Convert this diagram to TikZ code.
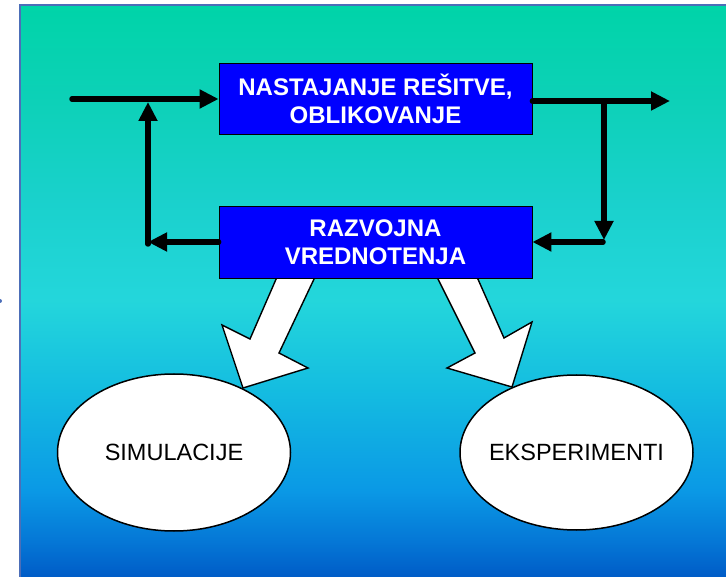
\documentclass[tikz,border=0pt]{standalone}
\usepackage{fontspec}
\setmainfont{Liberation Sans}
\usetikzlibrary{arrows.meta,shapes.geometric}

% background fade: blue at the bottom, cyan in the middle, teal at the top
\pgfdeclareverticalshading{panelfade}{100bp}{
  rgb(0bp)=(0,0.36,0.78);
  rgb(25bp)=(0,0.36,0.78);
  rgb(28.2bp)=(0.02,0.47,0.84);
  rgb(32.6bp)=(0.04,0.6,0.9);
  rgb(41.4bp)=(0.08,0.74,0.88);
  rgb(49.2bp)=(0.14,0.84,0.86);
  rgb(58bp)=(0.1,0.82,0.8);
  rgb(66.7bp)=(0.05,0.82,0.72);
  rgb(75bp)=(0,0.83,0.66);
  rgb(100bp)=(0,0.83,0.66)}

\definecolor{framecol}{rgb}{0.3,0.43,0.72}
\definecolor{boxblue}{rgb}{0,0,1}

\tikzset{
  procbox/.style={draw=black, line width=0.8pt, fill=boxblue, text=white,
    font=\bfseries\fontsize{24}{28}\selectfont, align=center, inner sep=0pt,
    minimum width=313pt},
  flow/.style={line width=5.5pt, line cap=round, line join=round,
    -{Triangle[length=19pt,width=18pt]}},
  hollow/.style={draw=black, line width=1.4pt, fill=white, line join=miter},
  bubble/.style={ellipse, draw=black, line width=1.5pt, fill=white, inner sep=0pt},
  bubbletext/.style={font=\fontsize{23.5}{28}\selectfont, inner sep=0pt}
}

\begin{document}
\begin{tikzpicture}[x=1pt,y=-1pt]
\useasboundingbox (0,0) rectangle (726,577);

% panel
\shade[shading=panelfade] (20,5) rectangle (726,577);
\draw[framecol, line width=2pt] (20,577) -- (20,5) -- (726,5);
\fill[framecol] (0,301) circle (2);

% ellipses
\node[bubble, minimum width=233pt, minimum height=157pt] (sim) at (174,452.5) {};
\node[bubbletext] (simtxt) at (sim.center) {SIMULACIJE};
\node[bubble, minimum width=233pt, minimum height=155pt] (eks) at (576.5,452.5) {};
\node[bubbletext] (ekstxt) at (eks.center) {EKSPERIMENTI};

% block arrows from the evaluation box to the ellipses
\draw[hollow] (277,277) -- (250,339) -- (222,325) -- (243,388)
  -- (308,368) -- (279,353) -- (315,277) -- cycle;
\draw[hollow] (437,277) -- (475,353) -- (447,368) -- (512,387)
  -- (532,322) -- (504,338) -- (477,277) -- cycle;

% process boxes
\node[procbox, minimum height=71pt] (b1) at (375.5,98.5)
  {NASTAJANJE REŠITVE,\\OBLIKOVANJE};
\node[procbox, minimum height=72pt] (b2) at (375.5,242)
  {RAZVOJNA\\VREDNOTENJA};

% feedback loop
\coordinate (in) at (72,99);
\coordinate (out) at (670,101);
\coordinate (tl) at (148,102);
\coordinate (jl) at (148,242);
\coordinate (tr) at (604,101);
\coordinate (jrtip) at (604,240);
\coordinate (jr) at (603,242);

\draw[flow] (in) -- (b1.west |- in);
\draw[flow] (b1.east |- out) -- (out);
\draw[flow] (jl) ++(0,2) -- (tl);
\draw[flow] (b2.west) -- (jl);
\draw[flow] (tr) -- (jrtip);
\draw[flow] (jr) -- (b2.east);
\end{tikzpicture}
\end{document}
